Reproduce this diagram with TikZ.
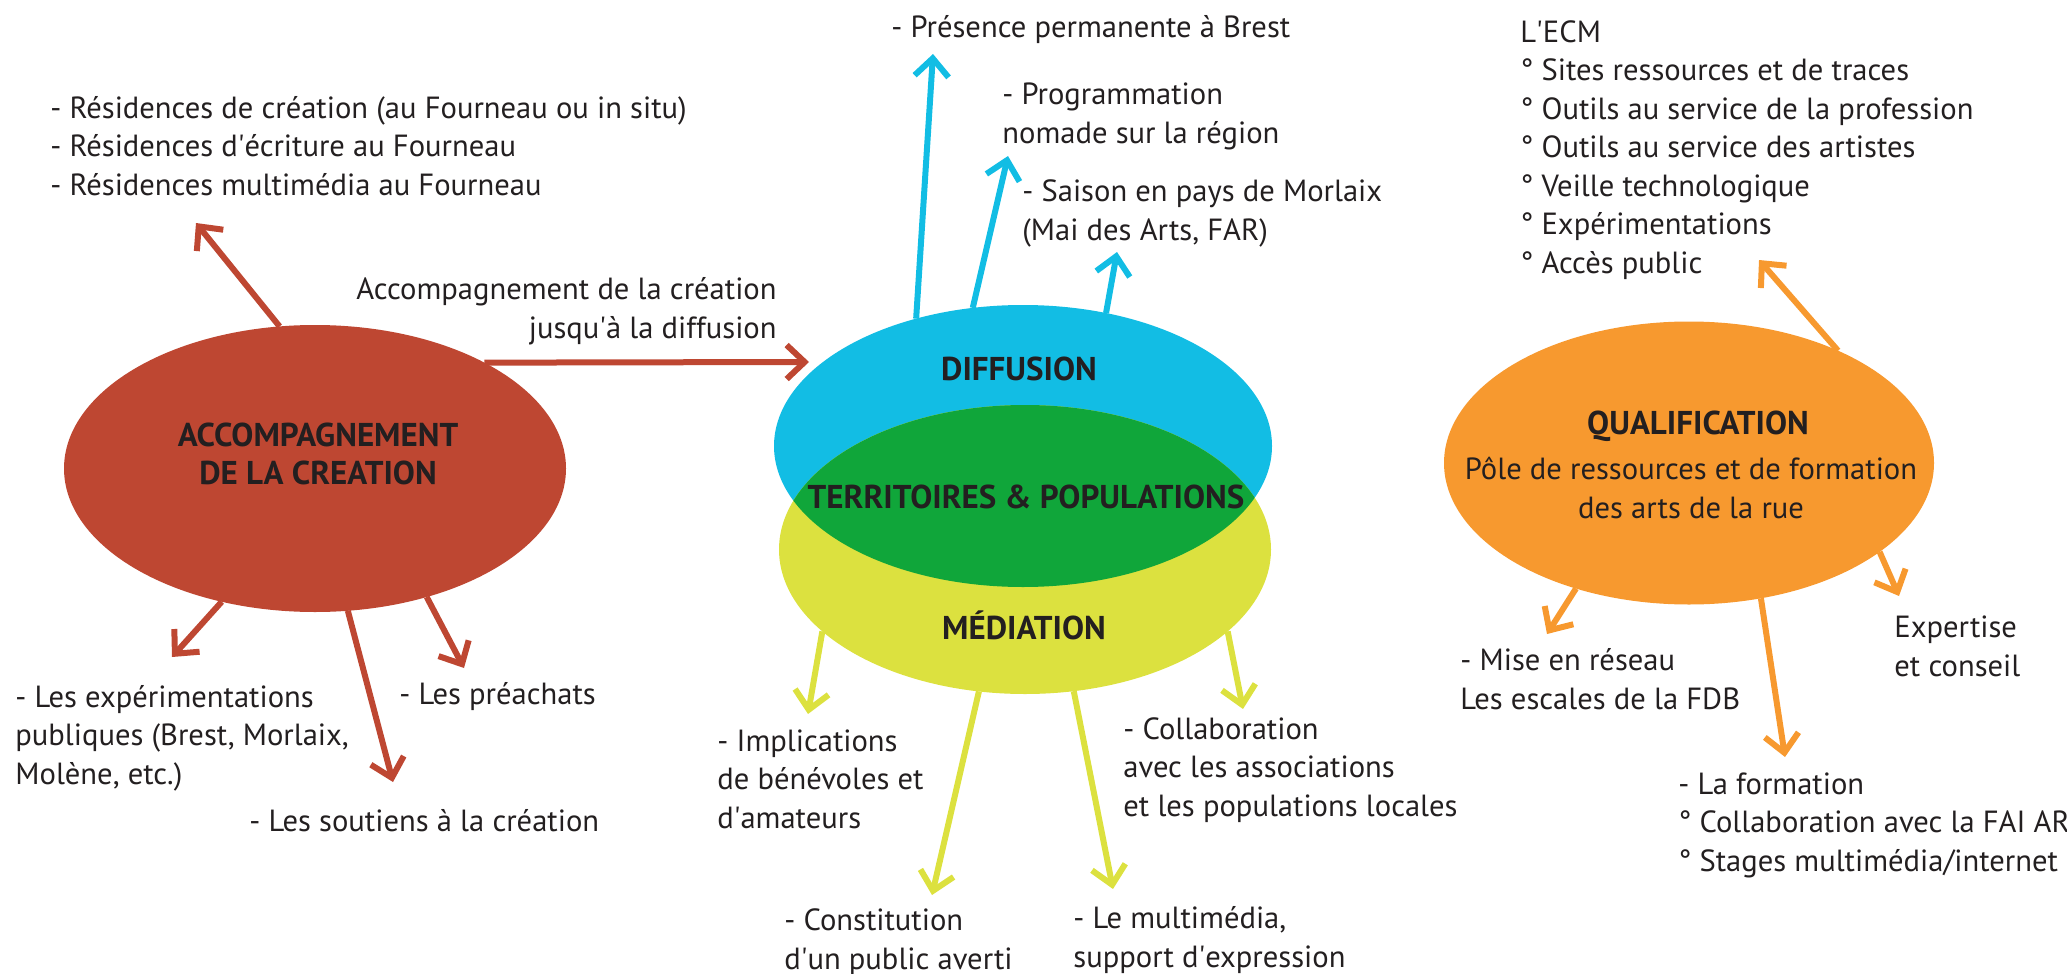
\documentclass[tikz,border=0pt]{standalone}
\usepackage{fontspec}
\setmainfont{PT Sans}
\usetikzlibrary{shapes.geometric,arrows.meta,backgrounds}

\definecolor{rouge}{HTML}{BE4732}
\definecolor{bleu}{HTML}{12BDE4}
\definecolor{jaune}{HTML}{DCE13F}
\definecolor{vert}{HTML}{10A63A}
\definecolor{orange}{HTML}{F7992F}
\definecolor{encre}{HTML}{231F20}
\newcommand{\q}{\textquotesingle}

\begin{document}
\begin{tikzpicture}[x=0.5pt,y=-0.5pt]

      \tikzset{pole/.style={ellipse, inner sep=0pt, outer sep=0pt},
               titre/.style={font=\bfseries\fontsize{16.5}{19}\selectfont, text=encre, align=center, inner sep=0pt},
               texte/.style={font=\fontsize{15.3}{19.25}\selectfont, text=encre, align=left, anchor=base west, inner sep=0pt},
               fleche/.style={line width=3pt, -{Straight Barb[length=9pt,width=17pt,line join=miter,line cap=butt]}}}
      \useasboundingbox (0,0) rectangle (2067,974);
%% Poles
      	\node[pole, fill=rouge, minimum width=251pt, minimum height=143.5pt] (accomp) at (315,468.5) {};
      	\node[pole, fill=bleu, minimum width=249pt, minimum height=141pt] (diffusion) at (1023,446) {};
      	\node[pole, fill=jaune, minimum width=246pt, minimum height=144.5pt] (mediation) at (1025,549.5) {};
      	\begin{scope}
      	  \clip (mediation) ellipse [x radius=123pt, y radius=72.25pt];
      	  \fill[vert] (diffusion) ellipse [x radius=124.5pt, y radius=70.5pt];
      	\end{scope}
      	\node[pole, fill=orange, minimum width=245pt, minimum height=141.5pt] (qualif) at (1689,463) {};
%% Titres (multi-line nodes: y is the baseline of the last line)
      	\node[titre, anchor=base] (tAcc) at (318,484) {ACCOMPAGNEMENT\\DE LA CREATION};
      	\node[titre, anchor=base] (tDiff) at (1019,380) {DIFFUSION};
      	\node[titre, anchor=base] (tTerr) at (1026,508) {TERRITOIRES \& POPULATIONS};
      	\node[titre, anchor=base] (tMed) at (1024,639) {MÉDIATION};
      	\node[titre, anchor=base] (tQual) at (1698,434) {QUALIFICATION};
      	\node[texte, anchor=base, align=center] (tPole) at (1691,518) {Pôle de ressources et de formation\\des arts de la rue};
%% Textes
      	\node[texte] (resid) at (50,195) {- Résidences de création (au Fourneau ou in situ)\\- Résidences d\q écriture au Fourneau\\- Résidences multimédia au Fourneau};
      	\node[texte, anchor=base east, align=right] (accdif) at (777,338) {Accompagnement de la création\\jusqu\q à la diffusion};
      	\node[texte] (experim) at (15,784) {- Les expérimentations\\publiques (Brest, Morlaix,\\Molène, etc.)};
      	\node[texte] (preach) at (399,704) {- Les préachats};
      	\node[texte] (soutien) at (249,831) {- Les soutiens à la création};
      	\node[texte] (presence) at (891,38) {- Présence permanente à Brest};
      	\node[texte] (program) at (1002,143) {- Programmation\\nomade sur la région};
      	\node[texte] (saison) at (1022,240) {- Saison en pays de Morlaix\\(Mai des Arts, FAR)};
      	\node[texte] (implic) at (717,828) {- Implications\\de bénévoles et\\d\q amateurs};
      	\node[texte] (constit) at (784,969) {- Constitution\\d\q un public averti};
      	\node[texte] (multim) at (1073,967) {- Le multimédia,\\support d\q expression};
      	\node[texte] (collab) at (1123,816) {- Collaboration\\avec les associations\\et les populations locales};
      	\node[texte] (ecm) at (1520,273) {L\q ECM\\° Sites ressources et de traces\\° Outils au service de la profession\\° Outils au service des artistes\\° Veille technologique\\° Expérimentations\\° Accès public};
      	\node[texte] (reseau) at (1460,709) {- Mise en réseau\\Les escales de la FDB};
      	\node[texte] (expert) at (1894,676) {Expertise\\et conseil};
      	\node[texte] (formation) at (1678,871) {- La formation\\° Collaboration avec la FAI AR\\° Stages multimédia/internet};
%% Pointes
      	\coordinate (pResid) at (196,223);
      	\coordinate (pDiff) at (809,362);
      	\coordinate (pExper) at (172,657);
      	\coordinate (pSout) at (393,782);
      	\coordinate (pPreach) at (464,668);
      	\coordinate (pPres) at (933,54);
      	\coordinate (pProg) at (1008,156);
      	\coordinate (pSais) at (1117,252);
      	\coordinate (pImpl) at (808,714);
      	\coordinate (pConst) at (932,895);
      	\coordinate (pMult) at (1113,889);
      	\coordinate (pColl) at (1243,709);
      	\coordinate (pEcm) at (1759,260);
      	\coordinate (pRes) at (1547,634);
      	\coordinate (pExpert) at (1899,596);
      	\coordinate (pForm) at (1785,757);
%Fleches
      	\begin{scope}[on background layer]
		\draw [fleche, rouge] (accomp.104) -- (pResid);
		\draw [fleche, rouge] (accomp.32) -- (pDiff);
		\draw [fleche, rouge] (accomp.235) -- (pExper);
		\draw [fleche, rouge] (accomp.283) -- (pSout);
		\draw [fleche, rouge] (accomp.311) -- (pPreach);
		\draw [fleche, bleu] (diffusion.130) -- (pPres);
		\draw [fleche, bleu] (diffusion.110) -- (pProg);
		\draw [fleche, bleu] (diffusion.58) -- (pSais);
		\draw [fleche, jaune] (mediation.202) -- (pImpl);
		\draw [fleche, jaune] (mediation.252) -- (pConst);
		\draw [fleche, jaune] (mediation.289) -- (pMult);
		\draw [fleche, jaune] (mediation.338) -- (pColl);
		\draw [fleche, orange] (qualif.37) -- (pEcm);
		\draw [fleche, orange] (qualif.228) -- (pRes);
		\draw [fleche, orange] (qualif.335) -- (pExpert);
		\draw [fleche, orange] (qualif.298) -- (pForm);
      	\end{scope}

	\end{tikzpicture}
\end{document}
